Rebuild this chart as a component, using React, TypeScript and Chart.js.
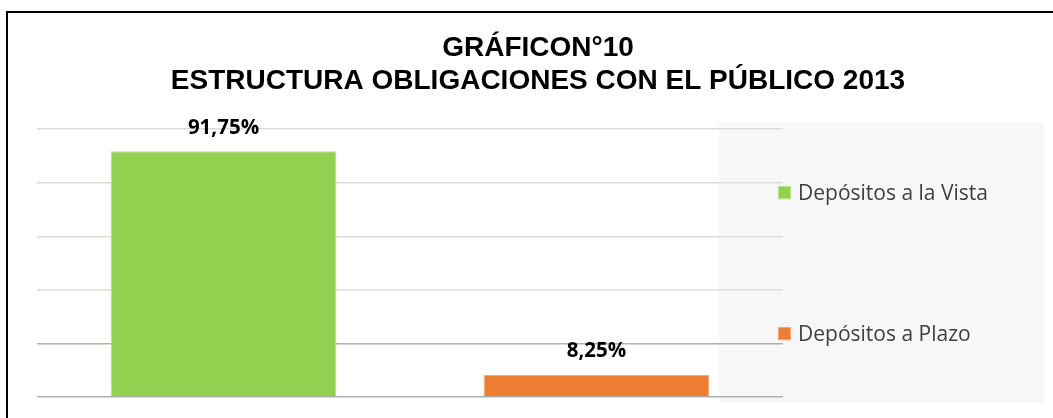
import React, { useEffect, useRef } from "react";
import { Chart, registerables } from "chart.js";

Chart.register(...registerables);

const titleLines = ["GRÁFICON°10", "ESTRUCTURA OBLIGACIONES CON EL PÚBLICO 2013"];
const categories = [""];
const seriesNames = ["Depósitos a la Vista", "Depósitos a Plazo"];
const seriesValues = [91.75, 8.25];
const seriesColors = ["#92d050", "#ed7d31"];
const seriesBorders = ["#b7e28f", "#f5a877"];
const yMin = 0;
const yMax = 100;
const yStep = 20;

const fmt = (v: number) => v.toFixed(2).replace(".", ",") + "%";

const legendBgPlugin = {
  id: "legendBg",
  beforeDraw(chart: any) {
    const { ctx, chartArea } = chart;
    ctx.save();
    ctx.fillStyle = "#f7f7f7";
    const x = chartArea.right - 64;
    const y = chartArea.top - 7;
    ctx.fillRect(x, y, 325, chartArea.bottom - chartArea.top + 13);
    ctx.restore();
  },
};

const dataLabelPlugin = {
  id: "dataLabels",
  afterDatasetsDraw(chart: any) {
    const { ctx } = chart;
    ctx.save();
    ctx.font = "bold 20.5px 'Open Sans'";
    ctx.fillStyle = "#000000";
    ctx.textAlign = "center";
    ctx.textBaseline = "alphabetic";
    chart.data.datasets.forEach((ds: any, i: number) => {
      const meta = chart.getDatasetMeta(i);
      meta.data.forEach((bar: any, j: number) => {
        ctx.fillText(fmt(ds.data[j]), bar.x, bar.y - 17.5);
      });
    });
    ctx.restore();
  },
};

const customLegendPlugin = {
  id: "customLegend",
  afterDraw(chart: any) {
    const { ctx, chartArea } = chart;
    const mid = (chartArea.top + chartArea.bottom) / 2;
    const n = chart.data.datasets.length;
    ctx.save();
    ctx.font = "21px 'Open Sans'";
    ctx.textBaseline = "middle";
    ctx.textAlign = "left";
    chart.data.datasets.forEach((ds: any, i: number) => {
      const cy = mid + (i - (n - 1) / 2) * 141;
      const bx = chartArea.right - 5;
      ctx.fillStyle = ds.backgroundColor;
      ctx.fillRect(bx, cy - 6.5, 13, 13);
      ctx.strokeStyle = ds.borderColor;
      ctx.lineWidth = 1;
      ctx.strokeRect(bx + 0.5, cy - 6, 12, 12);
      ctx.fillStyle = "#404040";
      ctx.fillText(ds.label, bx + 20, cy + 1);
    });
    ctx.restore();
  },
};

export default function App() {
  const canvasRef = useRef<HTMLCanvasElement | null>(null);

  useEffect(() => {
    if (!canvasRef.current) return;
    const chart = new Chart(canvasRef.current, {
      type: "bar",
      data: {
        labels: categories,
        datasets: seriesNames.map((name, i) => ({
          label: name,
          data: [seriesValues[i]],
          backgroundColor: seriesColors[i],
          borderColor: seriesBorders[i],
          borderWidth: 1,
          categoryPercentage: 1.0,
          barPercentage: 0.605,
        })),
      },
      options: {
        animation: false,
        responsive: false,
        devicePixelRatio: 1,
        layout: { padding: { left: 23, right: 0, top: 0, bottom: 21 } },
        plugins: {
          legend: { display: false },
          tooltip: { enabled: false },
          title: {
            display: true,
            text: titleLines,
            color: "#000000",
            font: { family: "'Liberation Sans', Arial, sans-serif", size: 28, weight: "bold", lineHeight: 1.2 },
            padding: { top: 31, bottom: 31 },
          },
        },
        scales: {
          x: { display: false },
          y: {
            min: yMin,
            max: yMax,
            ticks: { display: false, stepSize: yStep },
            border: { display: false },
            grid: {
              drawTicks: false,
              lineWidth: 1.5,
              color: (c: any) => (c.tick && c.tick.value <= 20 ? "#b0b0b0" : "#dcdcdc"),
            },
            afterFit: (s: any) => {
              s.width = 14;
            },
          },
          y2: {
            position: "right",
            min: yMin,
            max: yMax,
            ticks: { display: false },
            border: { display: false },
            grid: { display: false, drawTicks: false },
            afterFit: (s: any) => {
              s.width = 270;
            },
          },
        },
      },
      plugins: [legendBgPlugin, dataLabelPlugin, customLegendPlugin],
    } as any);
    return () => chart.destroy();
  }, []);

  return (
    <div style={{ position: "absolute", left: 0, top: 0, width: 1053, height: 418, overflow: "hidden", background: "#ffffff" }}>
      <canvas ref={canvasRef} width={1053} height={418} style={{ position: "absolute", left: 0, top: 0, width: 1053, height: 418 }} />
      <div
        style={{
          position: "absolute",
          left: 6,
          top: 11,
          width: 2000,
          height: 2000,
          borderTop: "2px solid #000",
          borderLeft: "2px solid #000",
          pointerEvents: "none",
        }}
      />
    </div>
  );
}
